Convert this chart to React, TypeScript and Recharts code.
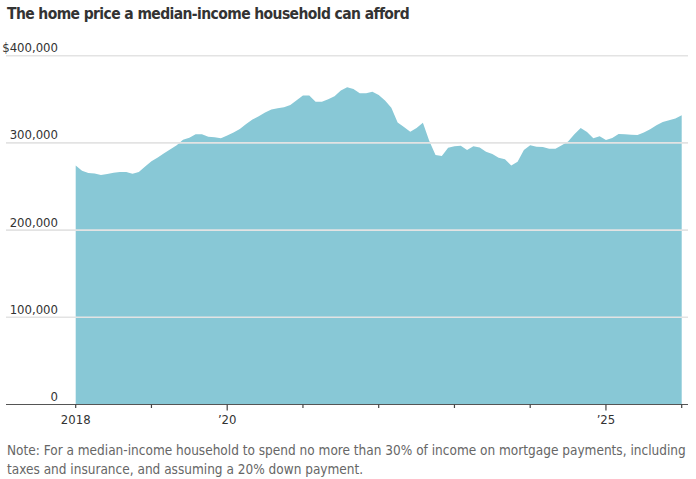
import React from 'react';
import { AreaChart, Area, XAxis, YAxis, ReferenceLine } from 'recharts';

// Monthly, Jan 2018 – Jan 2026 (index 0 = Jan 2018)
const affordablePrice: number[] = [
  274000, 268000, 265500, 264800, 263300, 264400, 265800, 266600, 266600, 264700, 266500, 272800,
  279000, 283300, 288000, 292800, 297300, 303500, 305900, 309900, 309900, 307100, 306500, 305400,
  308500, 312000, 316000, 321800, 326800, 330500, 335000, 338200, 339800, 341000, 343600, 349000,
  354300, 354300, 347200, 347200, 350000, 353500, 360000, 363700, 361700, 357000, 357000, 358600,
  354800, 348500, 340300, 323500, 318300, 312800, 317000, 323000, 302500, 286000, 285000, 294500,
  296200, 296700, 292000, 296100, 294600, 289800, 287300, 283000, 281300, 274200, 278500, 292000,
  297200, 295500, 295300, 293300, 293400, 297300, 301700, 309800, 317000, 312600, 305400, 307500,
  303200, 305600, 310200, 310000, 309300, 309000, 311800, 315600, 320200, 324000, 326000, 328000,
  331700,
];

const yTicks = [0, 100000, 200000, 300000, 400000];
const yTickLabels = ['0', '100,000', '200,000', '300,000', '$400,000'];
const xTicks = [0, 12, 24, 36, 48, 60, 72, 84, 96];
const xTickLabels = ['2018', '', '\u201920', '', '', '', '', '\u201925', ''];
const longTicks = [24, 84];

const titleText = 'The home price a median-income household can afford';
const noteLines = [
  'Note: For a median-income household to spend no more than 30% of income on mortgage payments, including',
  'taxes and insurance, and assuming a 20% down payment.',
];

const data = affordablePrice.map((price, m) => ({ m, price }));

const FONT = '"Liberation Sans Narrow", "DejaVu Sans Condensed", "Liberation Sans", Arial, sans-serif';

const GridShape = (label: string, isAxis: boolean) => (props: any) => {
  const y = props.y1;
  return (
    <g>
      <line x1={6} x2={688} y1={y} y2={y} stroke={isAxis ? '#555555' : '#e3e3e3'} strokeWidth={isAxis ? 1.2 : 1.6} />
      <text x={58} y={y - 3.5} textAnchor="end" fontSize={13} fill="#333333" fontFamily={FONT}>
        {label}
      </text>
    </g>
  );
};

const XTick = (props: any) => {
  const { x, payload } = props;
  const idx = xTicks.indexOf(payload.value);
  const label = idx >= 0 ? xTickLabels[idx] : '';
  const len = longTicks.includes(payload.value) ? 6 : 3.5;
  return (
    <g>
      <line x1={x} x2={x} y1={404.5} y2={404.5 + len} stroke="#444444" strokeWidth={1.2} />
      {label ? (
        <text x={x} y={424.3} textAnchor="middle" fontSize={13} fill="#333333" fontFamily={FONT}>
          {label}
        </text>
      ) : null}
    </g>
  );
};

export default function App() {
  return (
    <div style={{ position: 'absolute', left: 0, top: 0, width: 696, height: 479, background: '#ffffff', overflow: 'hidden' }}>
      <div
        style={{
          position: 'absolute',
          left: 7,
          top: 3,
          fontFamily: FONT,
          fontWeight: 700,
          fontSize: 15.5,
          letterSpacing: -0.6,
          color: '#333333',
          whiteSpace: 'nowrap',
          lineHeight: '22px',
        }}
      >
        {titleText}
      </div>
      <div style={{ position: 'absolute', left: 0, top: 0 }}>
        <AreaChart
          width={696}
          height={479}
          data={data}
          margin={{ top: 55.7, right: 14.3, left: 75.7, bottom: 44.5 }}
        >
          <XAxis
            dataKey="m"
            type="number"
            domain={[0, 96]}
            ticks={xTicks}
            tick={<XTick />}
            tickLine={false}
            axisLine={false}
            height={30}
            interval={0}
          />
          <YAxis hide domain={[0, 400000]} ticks={yTicks} />
          <Area
            type="linear"
            dataKey="price"
            stroke="none"
            fill="#88c8d6"
            fillOpacity={1}
            isAnimationActive={false}
          />
          {yTicks.map((t, i) => (
            <ReferenceLine key={t} y={t} shape={GridShape(yTickLabels[i], t === 0)} />
          ))}
        </AreaChart>
      </div>
      <div
        style={{
          position: 'absolute',
          left: 7,
          top: 441,
          fontFamily: FONT,
          fontSize: 13.5,
          color: '#666666',
          lineHeight: '19px',
          whiteSpace: 'nowrap',
        }}
      >
        {noteLines[0]}
        <br />
        {noteLines[1]}
      </div>
    </div>
  );
}
